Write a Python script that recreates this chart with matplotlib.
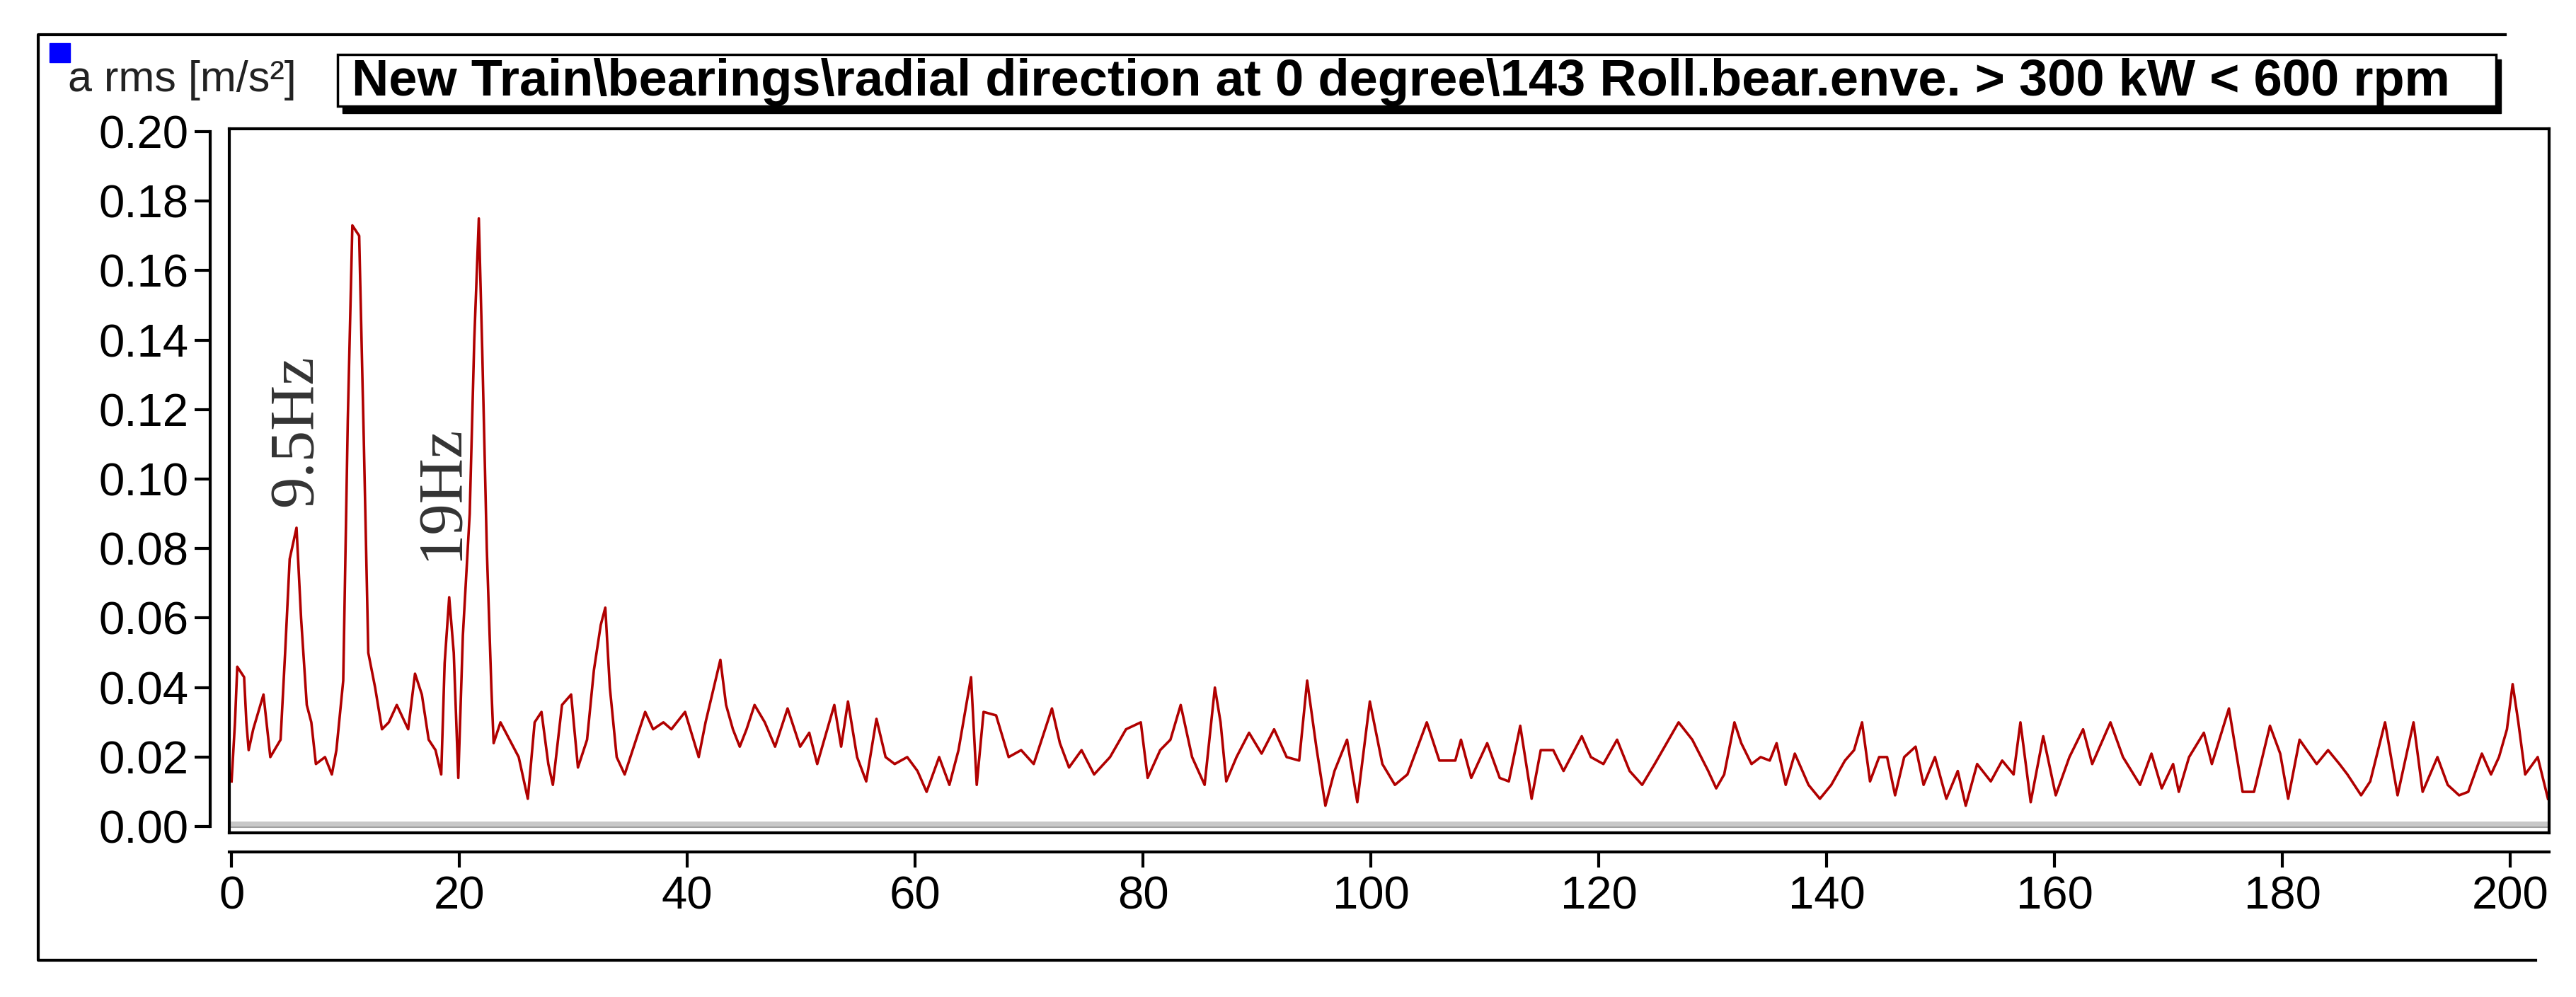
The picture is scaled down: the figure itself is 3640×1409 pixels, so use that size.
import matplotlib.pyplot as plt
from matplotlib.patches import Rectangle

# envelope spectrum (Hz, m/s^2)
freq = [0, 0.3, 0.5, 1.1, 1.3, 1.5, 1.9, 2.8, 3.4, 4.3, 4.7, 5.1, 5.5, 5.7, 6.1, 6.6, 7.0, 7.4,
        8.2, 8.8, 9.2, 9.8, 10.2, 10.6, 11.2, 11.6, 12.0, 12.6, 13.2, 13.8, 14.5, 15.5, 16.1,
        16.7, 17.3, 17.9, 18.4, 18.7, 19.1, 19.5, 19.9, 20.3, 20.9, 21.3, 21.7, 22.0, 22.4,
        22.8, 23.0, 23.6, 24.4, 25.2, 26.0, 26.6, 27.2, 27.8, 28.2, 29.0, 29.8, 30.4, 31.2,
        31.8, 32.4, 32.8, 33.2, 33.8, 34.5, 35.5, 36.3, 37.0, 37.9, 38.6, 39.8, 41.0,
        41.6, 42.9, 43.4, 44.0, 44.6, 45.2, 45.9, 46.8, 47.7, 48.8, 49.9, 50.7, 51.4, 52.9,
        53.5, 54.1, 54.9, 55.7, 56.6, 57.4, 58.2, 59.3, 60.2, 61.0, 62.1, 63.0, 63.8, 64.9,
        65.4, 66.0, 67.1, 68.2, 69.3, 70.4, 72.0, 72.7, 73.5, 74.6, 75.7, 77.1, 78.5, 79.8,
        80.4, 81.5, 82.4, 83.3, 84.3, 85.4, 86.3, 86.8, 87.3, 88.2, 89.3, 90.4, 91.5, 92.6,
        93.7, 94.4, 95.2, 96.0, 96.8, 97.9, 98.8, 99.9, 101.0, 102.1, 103.2, 104.9, 106.0,
        107.4, 107.9, 108.8, 110.2, 111.3, 112.1, 113.1, 114.1, 114.9, 116.0, 116.9, 118.5,
        119.3, 120.4, 121.6, 122.7, 123.8, 124.9, 127.0, 128.2,
        129.6, 130.3, 131.0, 131.9, 132.5, 133.4, 134.2, 135.0, 135.6, 136.4, 137.2, 138.4,
        139.4, 140.4, 141.6, 142.4, 143.1, 143.8, 144.6, 145.3, 146.0, 146.8, 147.8, 148.5,
        149.5, 150.5, 151.5, 152.2, 153.2, 154.4, 155.4, 156.4, 157.0, 157.9, 159.0, 160.1,
        161.3, 162.5, 163.3, 164.9, 166.0, 167.5, 168.5, 169.4, 170.4, 170.9, 171.8, 173.1,
        173.8, 175.3, 176.5, 177.5, 178.9, 179.8, 180.5, 181.5, 183.0, 184.0, 185.0, 185.7,
        186.9, 187.7, 189.0, 190.1, 191.5, 192.3, 193.6, 194.5, 195.5, 196.3, 197.5, 198.3,
        199.0, 199.7, 200.2, 200.7, 201.3, 202.4, 203.3]
a_rms = [0.013, 0.030, 0.046, 0.043, 0.030, 0.022, 0.028, 0.038, 0.020, 0.025, 0.050, 0.077,
         0.083, 0.086, 0.060, 0.035, 0.030, 0.018, 0.020, 0.015, 0.022, 0.042, 0.117, 0.173,
         0.170, 0.112, 0.050, 0.040, 0.028, 0.030, 0.035, 0.028, 0.044, 0.038, 0.025, 0.022,
         0.015, 0.047, 0.066, 0.050, 0.014, 0.055, 0.090, 0.140, 0.175, 0.137, 0.080, 0.040,
         0.024, 0.030, 0.025, 0.020, 0.008, 0.030, 0.033, 0.018, 0.012, 0.035, 0.038, 0.017,
         0.025, 0.045, 0.058, 0.063, 0.040, 0.020, 0.015, 0.025, 0.033, 0.028, 0.030, 0.028,
         0.033, 0.020,
         0.030, 0.048, 0.035, 0.028, 0.023, 0.028, 0.035, 0.030, 0.023, 0.034, 0.023, 0.027,
         0.018, 0.035, 0.023, 0.036, 0.020, 0.013, 0.031, 0.020, 0.018, 0.020, 0.016, 0.010,
         0.020, 0.012, 0.022, 0.043, 0.012, 0.033, 0.032, 0.020, 0.022, 0.018, 0.034, 0.024,
         0.017, 0.022, 0.015, 0.020, 0.028, 0.030, 0.014, 0.022, 0.025, 0.035, 0.020, 0.012,
         0.040, 0.030, 0.013, 0.020, 0.027, 0.021, 0.028, 0.020, 0.019, 0.042, 0.023, 0.006,
         0.016, 0.025, 0.007, 0.036, 0.018, 0.012, 0.015, 0.030, 0.019, 0.019, 0.025, 0.014,
         0.024, 0.014, 0.013, 0.029, 0.008, 0.022, 0.022, 0.016, 0.026, 0.020, 0.018, 0.025,
         0.016, 0.012, 0.018, 0.030, 0.025,
         0.016, 0.011, 0.015, 0.030, 0.024, 0.018, 0.020, 0.019, 0.024, 0.012, 0.021, 0.012,
         0.008, 0.012, 0.019, 0.022, 0.030, 0.013, 0.020, 0.020, 0.009, 0.020, 0.023, 0.012,
         0.020, 0.008, 0.016, 0.006, 0.018, 0.013, 0.019, 0.015, 0.030, 0.007, 0.026, 0.009,
         0.020, 0.028, 0.018, 0.030, 0.020, 0.012, 0.021, 0.011, 0.018, 0.010, 0.020, 0.027,
         0.018, 0.034, 0.010, 0.010, 0.029, 0.021, 0.008, 0.025, 0.018, 0.022, 0.018, 0.015,
         0.009, 0.013, 0.030, 0.009, 0.030, 0.010, 0.020, 0.012, 0.009, 0.010, 0.021, 0.015,
         0.020, 0.028, 0.041, 0.030, 0.015, 0.020, 0.008]

y_ticks = [0.00, 0.02, 0.04, 0.06, 0.08, 0.10, 0.12, 0.14, 0.16, 0.18, 0.20]
x_ticks = [0, 20, 40, 60, 80, 100, 120, 140, 160, 180, 200]
title = "New Train\\bearings\\radial direction at 0 degree\\143 Roll.bear.enve. > 300 kW < 600 rpm"
notes = [("9.5Hz", 418, 609), ("19Hz", 623, 696)]

W, H = 3641, 1409
plt.rcParams['font.family'] = ['Liberation Sans', 'DejaVu Sans']


def box(x0, y0, x1, y1):
    # pixel box (top-left origin) -> figure fractions
    return [x0 / W, 1 - y1 / H, (x1 - x0) / W, (y1 - y0) / H]


fig = plt.figure(figsize=(W / 100, H / 100), dpi=100)

# outer frame
frame = fig.add_axes([0, 0, 1, 1])
frame.set_xlim(0, W)
frame.set_ylim(H, 0)
frame.axis('off')
frame.plot([3540, 54, 54, 3583], [49, 49, 1357, 1357], color='black', lw=3)
frame.add_patch(Rectangle((70, 61), 29, 27, color='#0000ff'))
frame.text(96, 114, "a rms [m/s²]", fontsize=44, va='center', ha='left', color='#222222')
frame.add_patch(Rectangle((484, 84), 3050, 76, color='black'))
frame.add_patch(Rectangle((477, 77), 3050, 73, facecolor='white', edgecolor='black', lw=2.5))
frame.text(497, 116, title, fontsize=52, fontweight='bold', va='center', ha='left')

ylo, yhi = -0.0018, 0.2008
ax = fig.add_axes(box(324, 182, 3602, 1177))
ax.plot(freq, a_rms, color='#b00000', lw=2.6)
ax.axhline(0.0008, color='#c8c8c8', lw=5)
ax.axhline(-0.0002, color='#a0a0a0', lw=1.5)
ax.set_xlim(-0.2, 203.4)
ax.set_ylim(ylo, yhi)
ax.set_xticks([])
ax.set_yticks([])
for s in ax.spines.values():
    s.set_linewidth(3)

# separate y axis
ay = fig.add_axes(box(297, 182, 298, 1177))
ay.set_ylim(ylo, yhi)
ay.set_xticks([])
for k in ['right', 'top', 'bottom']:
    ay.spines[k].set_visible(False)
ay.spines['left'].set_linewidth(3)
ay.spines['left'].set_bounds(0, 0.2)
ay.set_yticks(y_ticks)
ay.set_yticklabels([f"{v:.2f}" for v in y_ticks])
ay.tick_params(axis='y', length=16, width=3, labelsize=47, pad=6)

# separate x axis
axx = fig.add_axes(box(324, 1203, 3602, 1204))
axx.set_xlim(-0.2, 203.4)
axx.set_yticks([])
for k in ['left', 'right', 'top']:
    axx.spines[k].set_visible(False)
axx.spines['bottom'].set_linewidth(3)
axx.set_xticks(x_ticks)
axx.tick_params(axis='x', length=16, width=3, labelsize=47, pad=8)

for txt, px, py in notes:
    fig.text(px / W, 1 - py / H, txt, rotation=90, fontsize=64, family='Liberation Serif',
             color='#333333', ha='center', va='center')

fig.savefig('out.png', dpi=100)
